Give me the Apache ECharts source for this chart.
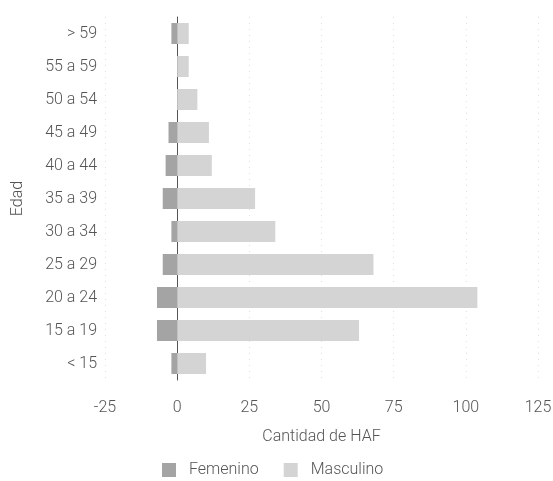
<!DOCTYPE html>
<html>
<head>
<meta charset="utf-8">
<script src="https://cdn.jsdelivr.net/npm/echarts@6/dist/echarts.min.js"></script>
<style>
html,body{margin:0;padding:0;background:#fff;}
#chart{width:553px;height:481px;}
</style>
</head>
<body>
<div id="chart"></div>
<script>
var categories = ['< 15', '15 a 19', '20 a 24', '25 a 29', '30 a 34', '35 a 39', '40 a 44', '45 a 49', '50 a 54', '55 a 59', '> 59'];
var femenino = [-2, -7, -7, -5, -2, -5, -4, -3, 0, 0, -2];
var masculino = [10, 63, 104, 68, 34, 27, 12, 11, 7, 4, 4];
var xTicks = [-25, 0, 25, 50, 75, 100, 125];

var chart = echarts.init(document.getElementById('chart'), null, {renderer: 'canvas'});
var font = 'Roboto, "Noto Sans", sans-serif';
var txt = '#555';
var fw = 300;
chart.setOption({
  animation: false,
  textStyle: {fontFamily: font},
  grid: {left: 105, right: 15, top: 17, bottom: 101, containLabel: false, outerBoundsMode: 'none'},
  legend: {
    bottom: -2,
    left: 157,
    icon: 'rect',
    itemWidth: 14,
    itemHeight: 14,
    itemGap: 25,
    textStyle: {color: txt, fontSize: 16, fontWeight: fw, fontFamily: font, padding: [0, 0, 0, 8]},
    data: ['Femenino', 'Masculino']
  },
  xAxis: {
    type: 'value',
    min: xTicks[0],
    max: xTicks[xTicks.length - 1],
    interval: 25,
    name: 'Cantidad de HAF',
    nameLocation: 'middle',
    nameGap: 49,
    nameTextStyle: {color: txt, fontSize: 16, fontWeight: fw, fontFamily: font},
    axisLine: {show: false},
    axisTick: {show: false},
    axisLabel: {color: txt, fontSize: 16, fontWeight: fw, margin: 20, fontFamily: font},
    splitLine: {show: true, lineStyle: {type: [1, 5], color: '#e0e0e0', width: 1}}
  },
  yAxis: {
    type: 'category',
    data: categories,
    name: 'Edad',
    nameLocation: 'middle',
    nameGap: 79,
    nameMoveOverlap: false,
    nameTextStyle: {color: txt, fontSize: 16, fontWeight: fw, fontFamily: font},
    axisLine: {show: true, onZero: true, lineStyle: {color: '#555', width: 1}},
    axisTick: {show: false},
    axisLabel: {color: txt, fontSize: 16, fontWeight: fw, margin: 8, fontFamily: font},
    splitLine: {show: false}
  },
  series: [
    {
      name: 'Femenino',
      type: 'bar',
      stack: 'total',
      barWidth: 21,
      data: femenino,
      itemStyle: {color: '#a4a4a4'}
    },
    {
      name: 'Masculino',
      type: 'bar',
      stack: 'total',
      barWidth: 21,
      data: masculino,
      itemStyle: {color: '#d4d4d4'}
    }
  ]
});
</script>
</body>
</html>
